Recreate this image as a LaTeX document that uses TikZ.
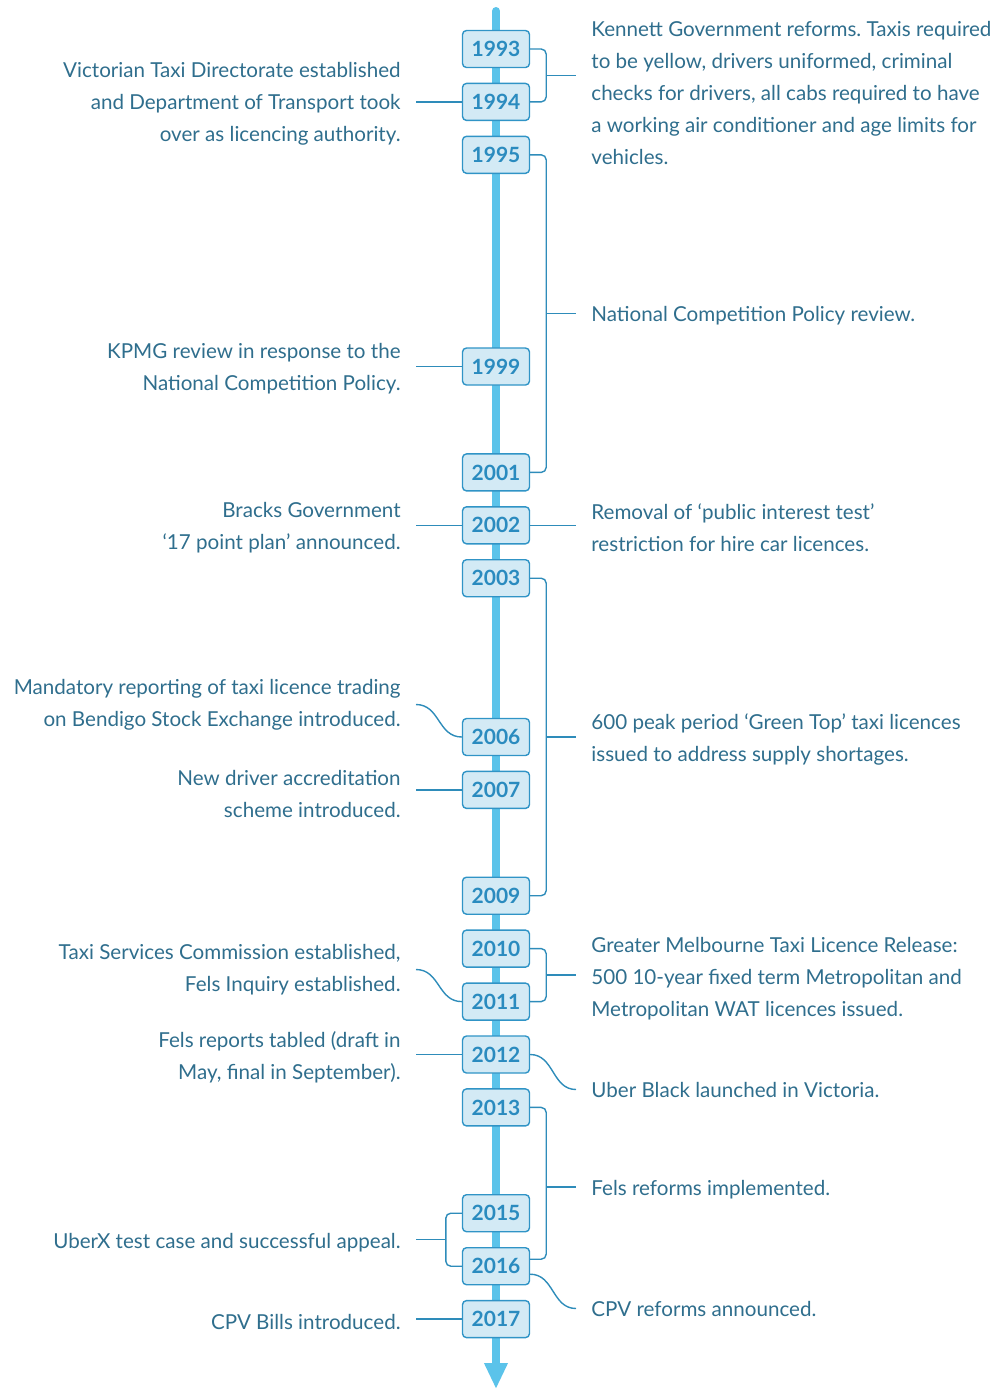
\documentclass[tikz,border=0pt]{standalone}
\usepackage{fontspec}
\setmainfont{Lato}
\frenchspacing
\usepackage{tikz}
\usetikzlibrary{arrows.meta}
\usetikzlibrary{calc}
\usetikzlibrary{positioning}
\definecolor{notetext}{HTML}{2F6E8D}
\definecolor{yeartext}{HTML}{2A8BBF}
\definecolor{boxfill}{HTML}{D3EAF5}
\definecolor{boxline}{HTML}{3094C6}
\definecolor{spineblue}{HTML}{5BC3EA}
\definecolor{linkblue}{HTML}{2E8CBA}
\begin{document}
\begin{tikzpicture}[x=0.5pt,y=-0.5pt,
    year node/.style={rectangle,draw=boxline,fill=boxfill,line width=0.7pt,rounded corners=2pt,minimum width=33.5pt,minimum height=18.5pt,inner sep=0pt,text=yeartext,font=\fontsize{10.5}{12}\selectfont\bfseries},
    left note/.style={anchor=east,align=right,inner xsep=7.5pt,inner ysep=0pt,yshift=-1.25pt,text=notetext,font=\fontsize{10.3}{16}\selectfont},
    right note/.style={anchor=west,align=left,inner xsep=7.5pt,inner ysep=0pt,yshift=-1.25pt,text=notetext,font=\fontsize{10.3}{16}\selectfont},
    link/.style={draw=linkblue,line width=0.7pt},
    bracket/.style={link,rounded corners=2.5pt}]
   \useasboundingbox (0,0) rectangle (999,1389);
   \begin{scope}
      % the spine
      \coordinate (top) at (496,11);
      \coordinate (bottom) at (496,1389);
      \draw[draw=spineblue,line width=4pt,line cap=round,-{Triangle[width=11pt,length=13pt]}] (top) -- (bottom);
      % years
      \node[year node] (y1993) at (496,49) {1993};
      \node[year node] (y1994) at (496,101.9) {1994};
      \node[year node] (y1995) at (496,154.8) {1995};
      \node[year node] (y1999) at (496,366.5) {1999};
      \node[year node] (y2001) at (496,472.4) {2001};
      \node[year node] (y2002) at (496,525.3) {2002};
      \node[year node] (y2003) at (496,578.2) {2003};
      \node[year node] (y2006) at (496,737) {2006};
      \node[year node] (y2007) at (496,789.9) {2007};
      \node[year node] (y2009) at (496,895.7) {2009};
      \node[year node] (y2010) at (496,948.6) {2010};
      \node[year node] (y2011) at (496,1001.6) {2011};
      \node[year node] (y2012) at (496,1054.5) {2012};
      \node[year node] (y2013) at (496,1107.4) {2013};
      \node[year node] (y2015) at (496,1213.2) {2015};
      \node[year node] (y2016) at (496,1266.2) {2016};
      \node[year node] (y2017) at (496,1319.1) {2017};
      % left notes
      \node[left note] (directorate) at (416,101) {Victorian Taxi Directorate established\\and Department of Transport took\\over as licencing authority.};
      \node[left note] (kpmg) at (416,366) {KPMG review in response to the\\National Competition Policy.};
      \node[left note] (bracks) at (416,525) {Bracks Government\\‘17 point plan’ announced.};
      \node[left note] (mandatory) at (416,702) {Mandatory reporting of taxi licence trading\\on Bendigo Stock Exchange introduced.};
      \node[left note] (accred) at (416,791) {New driver accreditation\\scheme introduced.};
      \node[left note] (tsc) at (416,967) {Taxi Services Commission established,\\Fels Inquiry established.};
      \node[left note] (felsrep) at (416,1055) {Fels reports tabled (draft in\\May, final in September).};
      \node[left note] (uberx) at (416,1240) {UberX test case and successful appeal.};
      \node[left note] (cpvbills) at (416,1319) {CPV Bills introduced.};
      % right notes
      \node[right note] (kennett) at (576,90) {Kennett Government reforms. Taxis required\\to be yellow, drivers uniformed, criminal\\checks for drivers, all cabs required to have\\a working air conditioner and age limits for\\vehicles.};
      \node[right note] (ncp) at (576,313.6) {National Competition Policy review.};
      \node[right note] (removal) at (576,525) {Removal of ‘public interest test’\\restriction for hire car licences.};
      \node[right note] (greentop) at (576,737) {600 peak period ‘Green Top’ taxi licences\\issued to address supply shortages.};
      \node[right note] (release) at (576,976) {Greater Melbourne Taxi Licence Release:\\500 10-year fixed term Metropolitan and\\Metropolitan WAT licences issued.};
      \node[right note] (uberblack) at (576,1087) {Uber Black launched in Victoria.};
      \node[right note] (felsimpl) at (576,1187) {Fels reforms implemented.};
      \node[right note] (cpvann) at (576,1306) {CPV reforms announced.};
      % straight links on the left
      \path[link] (directorate.east |- y1994) edge (y1994.west);
      \path[link] (kpmg.east |- y1999) edge (y1999.west);
      \path[link] (bracks.east |- y2002) edge (y2002.west);
      \path[link] (accred.east |- y2007) edge (y2007.west);
      \path[link] (felsrep.east |- y2012) edge (y2012.west);
      \path[link] (cpvbills.east |- y2017) edge (y2017.west);
      \path[link] (y2002.east) edge (removal.west |- y2002);
      % curved links
      \draw[link] (mandatory.east) .. controls +(24,0) and +(-24,0) .. (y2006.west);
      \draw[link] (tsc.east) .. controls +(24,0) and +(-24,0) .. (y2011.west);
      \draw[link] (y2012.east) .. controls +(24,0) and +(-24,0) .. (uberblack.west);
      \draw[link] ([yshift=-4pt]y2016.east) .. controls +(24,0) and +(-24,0) .. (cpvann.west);
      % brackets on the right
      \draw[bracket] (y1993.east) -- ++(16,0) |- (y1994.east);
      \coordinate (kb) at ($(y1993.east)!0.5!(y1994.east)+(16,0)$);
      \path[link] (kb) edge (kb -| kennett.west);
      \draw[bracket] (y1995.east) -- ++(16,0) |- (y2001.east);
      \coordinate (nb) at ($(y1995.east)!0.5!(y2001.east)+(16,0)$);
      \path[link] (nb) edge (nb -| ncp.west);
      \draw[bracket] (y2003.east) -- ++(16,0) |- (y2009.east);
      \coordinate (gb) at ($(y2003.east)!0.5!(y2009.east)+(16,0)$);
      \path[link] (gb) edge (gb -| greentop.west);
      \draw[bracket] (y2010.east) -- ++(16,0) |- (y2011.east);
      \coordinate (rb) at ($(y2010.east)!0.5!(y2011.east)+(16,0)$);
      \path[link] (rb) edge (rb -| release.west);
      \draw[bracket] (y2013.east) -- ++(16,0) |- ([yshift=3.5pt]y2016.east);
      \coordinate (fb) at ($(y2013.east)!0.5!(y2016.east)+(16,0)$);
      \path[link] (fb) edge (fb -| felsimpl.west);
      % bracket on the left
      \draw[bracket] (y2015.west) -- ++(-16,0) |- (y2016.west);
      \coordinate (ub) at ($(y2015.west)!0.5!(y2016.west)+(-16,0)$);
      \path[link] (ub) edge (ub -| uberx.east);
    \end{scope}
  \end{tikzpicture}
\end{document}
